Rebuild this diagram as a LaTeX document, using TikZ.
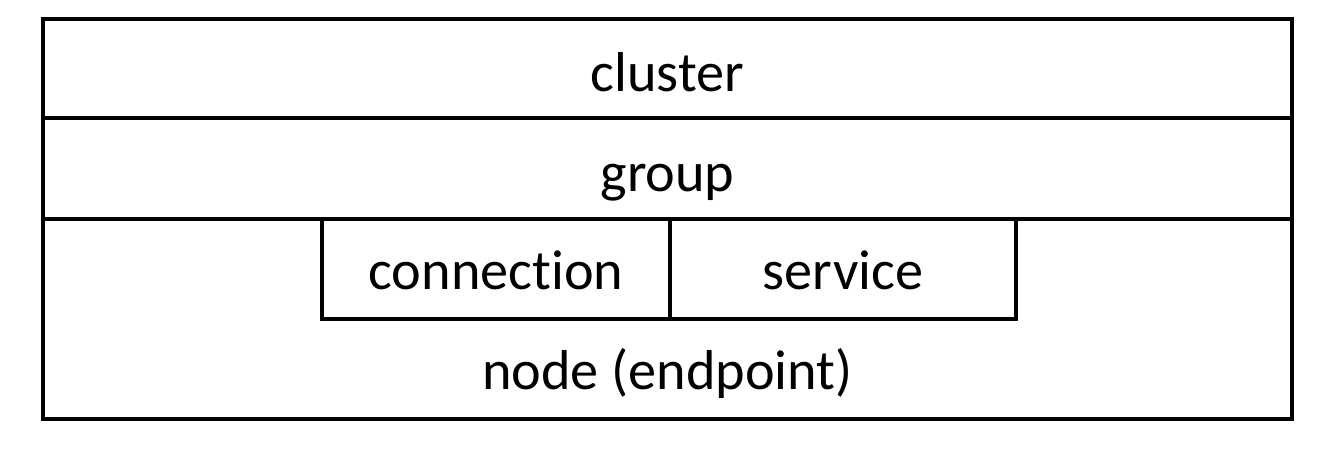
\documentclass[tikz,border=0pt]{standalone}
\usepackage{fontspec}
\setmainfont[Ligatures={NoCommon,NoRequired,NoContextual,NoRare}]{Carlito}
\usepackage{tikz}
\usetikzlibrary{positioning}

\begin{document}
\begin{tikzpicture}[layer/.style={draw=black,line width=1.1pt},
  label/.style={font=\fontsize{16}{19}\selectfont,text=black,inner sep=0pt,anchor=base}]
\useasboundingbox[fill=white] (0,0) rectangle (13.37,4.57);
\draw[layer] (0.43,3.39) rectangle (12.92,4.38);
\node[label] (cluster) at (6.675, 3.65) {cluster};
\draw[layer] (0.43,2.38) rectangle (12.92,3.39);
\node[label] (group) at (6.675, 2.65) {group};
\draw[layer] (0.43,0.38) rectangle (12.92,2.38);
\node[label] (node) at (6.675, 0.67) {node (endpoint)};
\draw[layer] (3.22,1.38) rectangle (6.70,2.38);
\node[label] (connection) at (4.96, 1.67) {connection};
\draw[layer] (6.70,1.38) rectangle (10.16,2.38);
\node[label] (service) at (8.43, 1.67) {service};
\end{tikzpicture}
\end{document}
